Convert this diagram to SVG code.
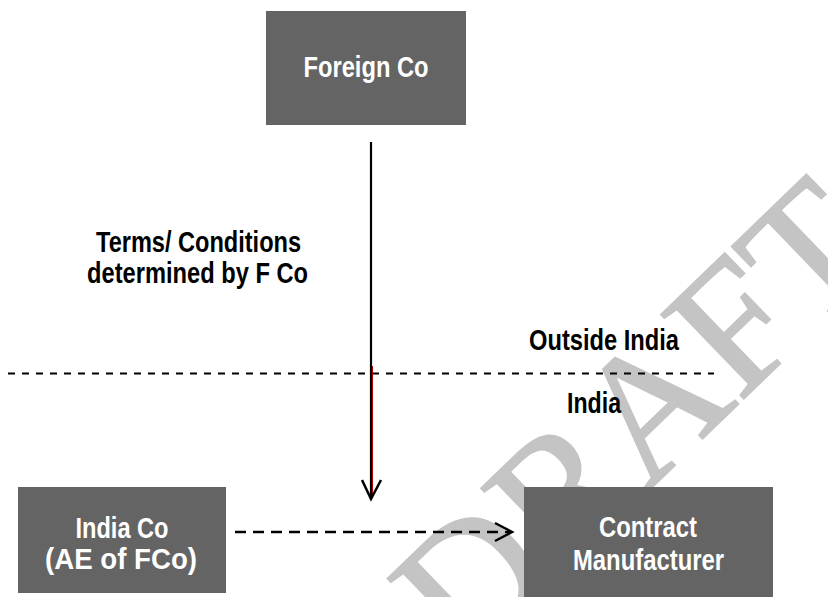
<svg xmlns="http://www.w3.org/2000/svg" width="828" height="597" viewBox="0 0 828 597">
<style>
.box{fill:#646464}
.t{font-family:"Liberation Sans Narrow","Liberation Sans",Arial,sans-serif;font-weight:bold;font-size:29px;text-anchor:middle}
.w{fill:#ffffff}
.k{fill:#000000}
.line{stroke:#000;fill:none;stroke-linecap:butt}
.wm{font-family:"Liberation Serif","Times New Roman",serif;font-size:180px;fill:#c4c4c4;stroke:#c4c4c4;stroke-width:2;text-anchor:middle}
</style>
<rect width="828" height="597" fill="#ffffff"/>
<g id="watermark">
<text class="wm" transform="translate(678,462) rotate(-44)">DRAFT</text>
</g>
<g id="labels">
<text class="t k" x="198.5" y="252" textLength="205" lengthAdjust="spacingAndGlyphs">Terms/ Conditions</text>
<text class="t k" x="197.5" y="283" textLength="221" lengthAdjust="spacingAndGlyphs">determined by F Co</text>
<text class="t k" x="604" y="350" textLength="150" lengthAdjust="spacingAndGlyphs">Outside India</text>
<text class="t k" x="594" y="413" textLength="54" lengthAdjust="spacingAndGlyphs">India</text>
</g>
<g id="connectors">
<line class="line" x1="8" y1="373.5" x2="714" y2="373.5" stroke-width="2" stroke-dasharray="7 7"/>
<line x1="372.5" y1="366" x2="372.5" y2="496" stroke="#c00000" stroke-width="1"/>
<line class="line" x1="371" y1="142" x2="371" y2="498" stroke-width="2.2"/>
<path class="line" d="M362,480 L371,499 L381,480" stroke-width="2.5"/>
<line class="line" x1="235" y1="532" x2="509" y2="532" stroke-width="2.5" stroke-dasharray="11 7"/>
<path class="line" d="M495,523 L512,532 L495,541" stroke-width="2.5"/>
</g>
<g id="foreign-co">
<rect class="box" x="266" y="11" width="200" height="114"/>
<text class="t w" x="366" y="77" textLength="125" lengthAdjust="spacingAndGlyphs">Foreign Co</text>
</g>
<g id="india-co">
<rect class="box" x="18" y="487" width="208" height="106"/>
<text class="t w" x="122" y="538" textLength="93" lengthAdjust="spacingAndGlyphs">India Co</text>
<text class="t w" x="121" y="569" textLength="152" lengthAdjust="spacingAndGlyphs">(AE of FCo)</text>
</g>
<g id="contract-manufacturer">
<rect class="box" x="524" y="487" width="249" height="112"/>
<text class="t w" x="648" y="537" textLength="98" lengthAdjust="spacingAndGlyphs">Contract</text>
<text class="t w" x="648.5" y="570" textLength="151" lengthAdjust="spacingAndGlyphs">Manufacturer</text>
</g>
</svg>
